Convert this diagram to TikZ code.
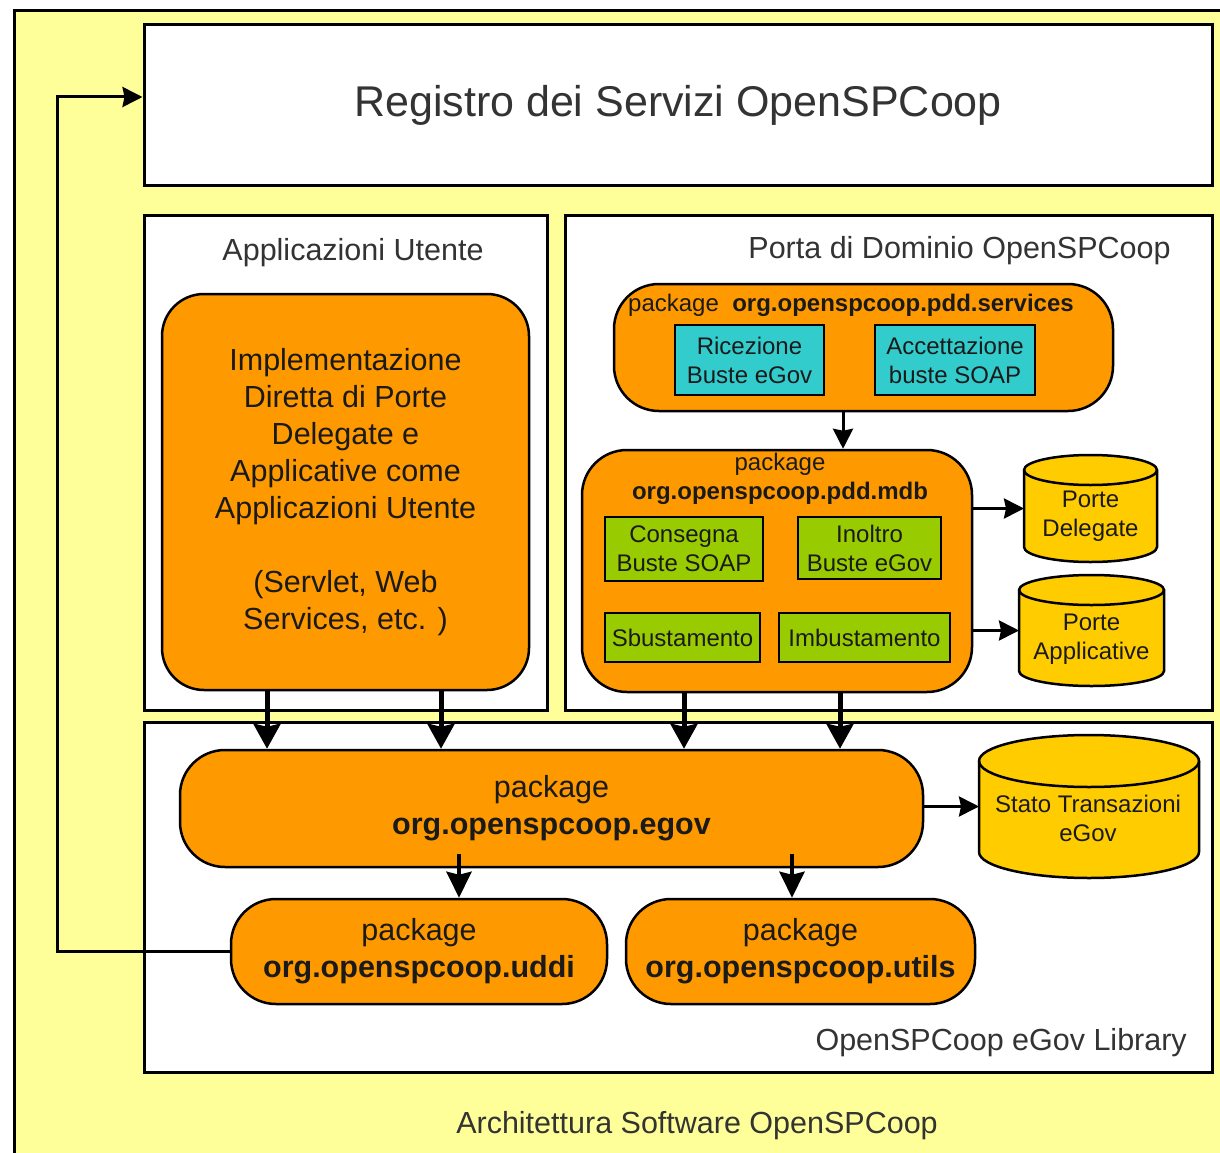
\documentclass[tikz,border=0pt]{standalone}
\usepackage{fontspec}
\setmainfont{Liberation Sans}
\usetikzlibrary{arrows.meta,calc}
\definecolor{bgyel}{HTML}{FFFF99}
\definecolor{pkgor}{HTML}{FF9900}
\definecolor{cyanbox}{HTML}{33CCCC}
\definecolor{greenbox}{HTML}{99CC00}
\definecolor{cylcol}{HTML}{FFCC00}
\definecolor{titletxt}{HTML}{333333}
\definecolor{boxtxt}{HTML}{1A1A1A}
\newcommand{\drawcyl}[3]{%
  \draw[cylshape] ($(#1.north west)+(0,#2)$) -- ($(#1.south west)+(0,-#2)$)
    arc[start angle=180,end angle=0,x radius=#3,y radius=#2]
    -- ($(#1.north east)+(0,#2)$)
    arc[start angle=0,end angle=-180,x radius=#3,y radius=#2] -- cycle;
  \draw[cylline] ($(#1.north west)+(0,#2)$) arc[start angle=180,end angle=0,x radius=#3,y radius=#2];
}
\begin{document}
\begin{tikzpicture}[x=1pt,y=-1pt,
  frame/.style={draw=black, line width=3pt, fill=white, rectangle, inner sep=0pt},
  pkg/.style={draw=black, line width=2.5pt, fill=pkgor, rectangle, rounded corners=45pt, inner sep=0pt, align=center, text=boxtxt},
  comp/.style={draw=black, line width=2.5pt, rectangle, inner sep=0pt, align=center, text=boxtxt, font=\fontsize{24}{29}\selectfont},
  body/.style={rectangle, inner sep=0pt, outer sep=0pt},
  cylshape/.style={draw=black, line width=2.5pt, fill=cylcol},
  cylline/.style={draw=black, line width=2.5pt},
  lbl/.style={text=titletxt, font=\fontsize{30.5}{37}\selectfont, inner sep=0pt},
  big/.style={font=\fontsize{30.5}{37}\selectfont},
  sml/.style={font=\fontsize{24}{29}\selectfont, text=boxtxt, inner sep=0pt, align=center},
  bigarrow/.style={line width=5pt, -{Stealth[length=25pt,width=27pt,inset=3pt]}},
  midarrow/.style={line width=4pt, -{Stealth[length=26pt,width=25pt,inset=3pt]}},
  smallarrow/.style={line width=3pt, -{Stealth[length=20pt,width=20pt,inset=2pt]}}]
\useasboundingbox (0,0) rectangle (1220,1153);
\clip (0,0) rectangle (1220,1153);
\fill[white] (0,0) rectangle (1220,1153);
% outer container
\node[draw=black, line width=3pt, fill=bgyel, minimum width=1240pt, minimum height=1180pt, inner sep=0pt, anchor=north west] (arch) at (13,9) {};
\node[lbl] (archlbl) at (697,1126) {Architettura Software OpenSPCoop};
% main frames
\node[frame, minimum width=1068pt, minimum height=160pt, text=titletxt, font=\fontsize{43}{50}\selectfont] (reg) at (678,105) {Registro dei Servizi OpenSPCoop};
\node[frame, minimum width=403pt, minimum height=495pt] (apps) at (345.5,462.5) {};
\node[frame, minimum width=647pt, minimum height=495pt] (pdd) at (888.5,462.5) {};
\node[frame, minimum width=1068pt, minimum height=350pt] (lib) at (678,897) {};
\node[lbl] (appslbl) at (353,253) {Applicazioni Utente};
\node[lbl] (pddlbl) at (959.5,251) {Porta di Dominio OpenSPCoop};
\node[lbl, anchor=east] (liblbl) at (1187,1043) {OpenSPCoop eGov Library};
% applicazioni utente
\node[pkg, rounded corners=42pt, minimum width=367pt, minimum height=396pt, big] (impl) at (345.5,492) {Implementazione\\Diretta di Porte\\Delegate e\\Applicative come\\Applicazioni Utente\\[37pt](Servlet, Web\\Services, etc. )};
% services package
\node[pkg, minimum width=499pt, minimum height=127pt] (svc) at (863.5,347.5) {};
\node[sml, anchor=west] (svclbl) at (628,305) {package\ \ \textbf{org.openspcoop.pdd.services}};
\node[comp, fill=cyanbox, minimum width=149pt, minimum height=70pt] (ric) at (749.5,360) {Ricezione\\Buste eGov};
\node[comp, fill=cyanbox, minimum width=160pt, minimum height=70pt] (acc) at (955,360) {Accettazione\\buste SOAP};
% mdb package
\node[pkg, minimum width=390pt, minimum height=242pt] (mdb) at (777,571) {};
\node[sml] (mdblbl) at (780,479) {package\\\textbf{org.openspcoop.pdd.mdb}};
\node[comp, fill=greenbox, minimum width=158pt, minimum height=64pt] (cons) at (684,549) {Consegna\\Buste SOAP};
\node[comp, fill=greenbox, minimum width=143pt, minimum height=62pt] (ino) at (869.5,548) {Inoltro\\Buste eGov};
\node[comp, fill=greenbox, minimum width=155pt, minimum height=49pt] (sbu) at (682.5,637.5) {Sbustamento};
\node[comp, fill=greenbox, minimum width=171pt, minimum height=49pt] (imb) at (864.5,637.5) {Imbustamento};
% databases
\node[body, minimum width=133pt, minimum height=107pt] (pd) at (1090.5,508.5) {};
\drawcyl{pd}{15}{66.5}
\node[sml] (pdtxt) at (1090.5,516) {Porte\\Delegate};
\node[body, minimum width=145pt, minimum height=111pt] (pa) at (1091.5,630.5) {};
\drawcyl{pa}{15}{72.5}
\node[sml] (patxt) at (1091.5,639) {Porte\\Applicative};
\node[body, minimum width=220pt, minimum height=143pt] (st) at (1089,806.5) {};
\drawcyl{st}{26}{110}
\node[sml] (sttxt) at (1088,818) {Stato Transazioni\\eGov};
% library packages
\node[pkg, minimum width=743pt, minimum height=117pt, big] (egov) at (551.5,808.5) {package\\\textbf{org.openspcoop.egov}};
\node[pkg, minimum width=376pt, minimum height=105pt, big] (uddi) at (419,951.5) {package\\\textbf{org.openspcoop.uddi}};
\node[pkg, minimum width=349pt, minimum height=105pt, big] (utils) at (800.5,951.5) {package\\\textbf{org.openspcoop.utils}};
% connectors
\coordinate (xa) at (267,0);
\coordinate (xb) at (441,0);
\coordinate (xc) at (684,0);
\coordinate (xd) at (840,0);
\coordinate (xe) at (459,0);
\coordinate (xf) at (792,0);
\coordinate (xg) at (843,0);
\coordinate (fb) at (57,97);
\draw[bigarrow] (impl.south -| xa) -- (egov.north -| xa);
\draw[bigarrow] (impl.south -| xb) -- (egov.north -| xb);
\draw[bigarrow] (mdb.south -| xc) -- (egov.north -| xc);
\draw[bigarrow] (mdb.south -| xd) -- (egov.north -| xd);
\draw[midarrow] ($(egov.south -| xe)+(0,-14)$) -- (uddi.north -| xe);
\draw[midarrow] ($(egov.south -| xf)+(0,-14)$) -- (utils.north -| xf);
\draw[smallarrow] (svc.south -| xg) -- (mdb.north -| xg);
\draw[smallarrow] (mdb.east |- pd.west) -- (pd.west);
\draw[smallarrow] (mdb.east |- pa.west) -- (pa.west);
\draw[smallarrow] (egov.east |- st.west) -- (st.west);
\draw[smallarrow] (uddi.west) -| (fb) -- (fb -| reg.west);
\end{tikzpicture}
\end{document}
